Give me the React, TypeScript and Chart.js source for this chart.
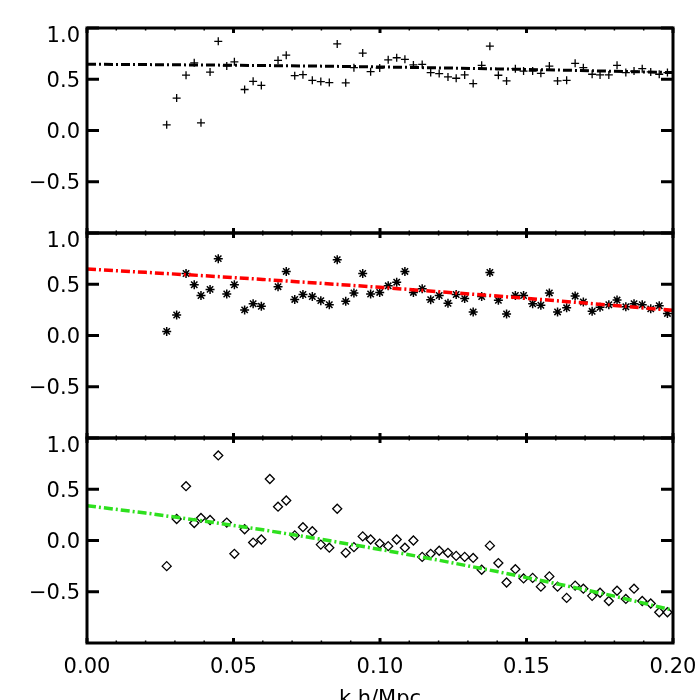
import React, { useEffect, useRef } from 'react';
import { Chart, registerables } from 'chart.js';

Chart.register(...registerables);

// ---- data ----
const kValues = [
  0.0272, 0.0306, 0.0338, 0.0366, 0.0389, 0.0420, 0.0448, 0.0477, 0.0503, 0.0538,
  0.0567, 0.0595, 0.0624, 0.0652, 0.0680, 0.0709, 0.0737, 0.0769, 0.0798, 0.0827,
  0.0854, 0.0883, 0.0911, 0.0941, 0.0968, 0.0999, 0.1028, 0.1057, 0.1085, 0.1114,
  0.1144, 0.1173, 0.1202, 0.1232, 0.1260, 0.1289, 0.1318, 0.1347, 0.1375, 0.1404,
  0.1432, 0.1462, 0.1490, 0.1521, 0.1549, 0.1578, 0.1606, 0.1637, 0.1666, 0.1694,
  0.1724, 0.1751, 0.1781, 0.1809, 0.1839, 0.1867, 0.1895, 0.1924, 0.1953, 0.1981,
];

const panel1Values: (number | null)[] = [
  0.055, 0.316, 0.54, 0.66, 0.075, 0.57, 0.87, 0.63, 0.67, 0.40,
  0.48, 0.44, null, 0.685, 0.735, 0.535, 0.545, 0.49, 0.477, 0.468,
  0.845, 0.465, 0.613, 0.755, 0.574, 0.61, 0.69, 0.71, 0.694, 0.64,
  0.645, 0.565, 0.555, 0.523, 0.51, 0.542, 0.458, 0.636, 0.823, 0.539,
  0.484, 0.603, 0.58, 0.58, 0.558, 0.629, 0.484, 0.49, 0.655, 0.613,
  0.549, 0.542, 0.542, 0.636, 0.565, 0.58, 0.603, 0.571, 0.549, 0.565,
];

const panel2Values: (number | null)[] = [
  0.04, 0.20, 0.605, 0.495, 0.39, 0.45, 0.75, 0.405, 0.495, 0.25,
  0.31, 0.285, null, 0.476, 0.625, 0.352, 0.40, 0.38, 0.34, 0.30,
  0.74, 0.333, 0.415, 0.605, 0.405, 0.42, 0.485, 0.52, 0.625, 0.42,
  0.456, 0.35, 0.39, 0.314, 0.40, 0.36, 0.23, 0.38, 0.615, 0.343,
  0.21, 0.39, 0.39, 0.31, 0.295, 0.415, 0.23, 0.27, 0.385, 0.327,
  0.236, 0.275, 0.30, 0.346, 0.28, 0.31, 0.30, 0.26, 0.29, 0.215,
];

const panel3Values: (number | null)[] = [
  -0.25, 0.21, 0.53, 0.17, 0.22, 0.20, 0.83, 0.175, -0.13, 0.11,
  -0.02, 0.01, 0.60, 0.33, 0.39, 0.05, 0.13, 0.09, -0.04, -0.07,
  0.31, -0.12, -0.065, 0.04, 0.01, -0.03, -0.055, 0.01, -0.07, 0.0,
  -0.16, -0.13, -0.10, -0.12, -0.15, -0.16, -0.17, -0.285, -0.05, -0.22,
  -0.41, -0.28, -0.37, -0.365, -0.45, -0.35, -0.45, -0.56, -0.44, -0.47,
  -0.54, -0.51, -0.59, -0.49, -0.57, -0.47, -0.59, -0.615, -0.70, -0.70,
];

const fitK = [0, 0.02, 0.04, 0.06, 0.08, 0.10, 0.12, 0.14, 0.16, 0.18, 0.20];
const fit1Values = [0.646, 0.643, 0.639, 0.634, 0.628, 0.620, 0.611, 0.601, 0.590, 0.578, 0.565];
const fit2Values = [0.648, 0.616, 0.583, 0.547, 0.509, 0.470, 0.428, 0.385, 0.340, 0.293, 0.245];
const fit3Values = [0.34, 0.268, 0.189, 0.104, 0.011, -0.087, -0.192, -0.303, -0.420, -0.543, -0.68];

const xTickValues = [0, 0.05, 0.1, 0.15, 0.2];
const yTickValues = [-0.5, 0, 0.5, 1.0];
const xTitle = 'k h/Mpc';
const X_MIN = 0;
const X_MAX = 0.2;
const Y_MIN = -1;
const Y_MAX = 1;

const FONT = '"DejaVu Sans", "Liberation Sans", sans-serif';

const toPoints = (xs: number[], ys: (number | null)[]) =>
  xs
    .map((x, i) => ({ x, y: ys[i] }))
    .filter((p) => p.y !== null && p.y !== undefined) as { x: number; y: number }[];

const fmtY = (v: number) => v.toFixed(1).replace('-', '\u2212');

const framePlugin = {
  id: 'idlFrames',
  afterDatasetsDraw(chart: any) {
    const ctx: CanvasRenderingContext2D = chart.ctx;
    const xs = chart.scales.x;
    const area = chart.chartArea;
    const line = (x1: number, y1: number, x2: number, y2: number) => {
      ctx.beginPath();
      ctx.moveTo(x1, y1);
      ctx.lineTo(x2, y2);
      ctx.stroke();
    };
    ctx.save();
    ctx.strokeStyle = '#000';
    ctx.fillStyle = '#000';
    ctx.lineCap = 'butt';
    ['y1', 'y2', 'y3'].forEach((id) => {
      const ys = chart.scales[id];
      const top = ys.getPixelForValue(Y_MAX);
      const bottom = ys.getPixelForValue(Y_MIN);
      // x ticks (minor every 0.01, major every 0.05), inward on top and bottom
      for (let i = 0; i <= 20; i++) {
        const v = X_MIN + i * 0.01;
        const px = xs.getPixelForValue(v);
        const major = i % 5 === 0;
        ctx.lineWidth = major ? 3 : 1.5;
        const len = major ? 5 : 2.5;
        line(px, top, px, top + len);
        line(px, bottom, px, bottom - len);
      }
      // y ticks inward both sides
      ctx.lineWidth = 3;
      yTickValues.forEach((v) => {
        const py = ys.getPixelForValue(v);
        line(area.left, py, area.left + 12, py);
        line(area.right, py, area.right - 12, py);
      });
      // frame
      ctx.lineWidth = 3;
      ctx.strokeRect(area.left, top, area.right - area.left, bottom - top);
      // y labels
      ctx.font = `21px ${FONT}`;
      ctx.textAlign = 'right';
      ctx.textBaseline = 'middle';
      yTickValues.forEach((v) => {
        const py = ys.getPixelForValue(v);
        const off = v === Y_MAX ? 9 : 2;
        ctx.fillText(fmtY(v), area.left - 7, py + off);
      });
    });
    // x title (partly below the canvas, as in the reference)
    ctx.font = `21px ${FONT}`;
    ctx.textAlign = 'center';
    ctx.textBaseline = 'alphabetic';
    ctx.fillText(xTitle, (area.left + area.right) / 2, xs.bottom + 5);
    ctx.restore();
  },
};

export default function App() {
  const ref = useRef<HTMLCanvasElement | null>(null);

  useEffect(() => {
    if (!ref.current) return;
    Chart.defaults.font.family = FONT;
    const yScale = (weight: number) => ({
      type: 'linear' as const,
      position: 'left' as const,
      stack: 'panels',
      stackWeight: 1,
      weight,
      min: Y_MIN,
      max: Y_MAX,
      grid: { display: false, drawTicks: false },
      border: { display: false },
      ticks: { display: false },
      afterFit: (s: any) => {
        s.width = 87;
      },
    });
    const dash = [9, 3, 2, 3];
    const chart = new Chart(ref.current, {
      type: 'scatter',
      data: {
        datasets: [
          {
            label: 'fit1',
            data: toPoints(fitK, fit1Values),
            yAxisID: 'y1',
            showLine: true,
            borderColor: '#000000',
            borderWidth: 3,
            borderDash: dash,
            pointRadius: 0,
            order: 0,
          },
          {
            label: 'fit2',
            data: toPoints(fitK, fit2Values),
            yAxisID: 'y2',
            showLine: true,
            borderColor: '#ff0000',
            borderWidth: 3.5,
            borderDash: dash,
            pointRadius: 0,
            order: 0,
          },
          {
            label: 'fit3',
            data: toPoints(fitK, fit3Values),
            yAxisID: 'y3',
            showLine: true,
            borderColor: '#2ee01e',
            borderWidth: 3.5,
            borderDash: dash,
            pointRadius: 0,
            order: 0,
          },
          {
            label: 'panel1',
            data: toPoints(kValues, panel1Values),
            yAxisID: 'y1',
            pointStyle: 'cross',
            pointRadius: 4,
            borderColor: '#000',
            borderWidth: 1.3,
            order: 1,
          },
          {
            label: 'panel2',
            data: toPoints(kValues, panel2Values),
            yAxisID: 'y2',
            pointStyle: 'star',
            pointRadius: 4.5,
            borderColor: '#000',
            borderWidth: 1.5,
            order: 1,
          },
          {
            label: 'panel3',
            data: toPoints(kValues, panel3Values),
            yAxisID: 'y3',
            pointStyle: 'rectRot',
            pointRadius: 4.5,
            borderColor: '#000',
            backgroundColor: 'rgba(0,0,0,0)',
            borderWidth: 1.3,
            order: 1,
          },
        ],
      },
      options: {
        animation: false,
        responsive: true,
        maintainAspectRatio: false,
        layout: { padding: { top: 28, right: 27, left: 0, bottom: 0 } },
        plugins: { legend: { display: false }, tooltip: { enabled: false } },
        scales: {
          x: {
            type: 'linear',
            position: 'bottom',
            min: X_MIN,
            max: X_MAX,
            grid: { display: false, drawTicks: false },
            border: { display: false },
            afterBuildTicks: (s: any) => {
              s.ticks = xTickValues.map((v) => ({ value: v }));
            },
            afterFit: (s: any) => {
              s.height = 57;
              s.paddingLeft = 0;
              s.paddingRight = 0;
            },
            ticks: {
              color: '#000',
              font: { size: 21, family: FONT },
              padding: 12,
              maxRotation: 0,
              autoSkip: false,
              callback: (v: any) => Number(v).toFixed(2),
            },
          },
          y1: yScale(3),
          y2: yScale(2),
          y3: yScale(1),
        },
      },
      plugins: [framePlugin],
    });
    return () => chart.destroy();
  }, []);

  return (
    <div style={{ position: 'fixed', left: 0, top: 0, width: 700, height: 700, background: '#fff' }}>
      <canvas ref={ref} />
    </div>
  );
}
